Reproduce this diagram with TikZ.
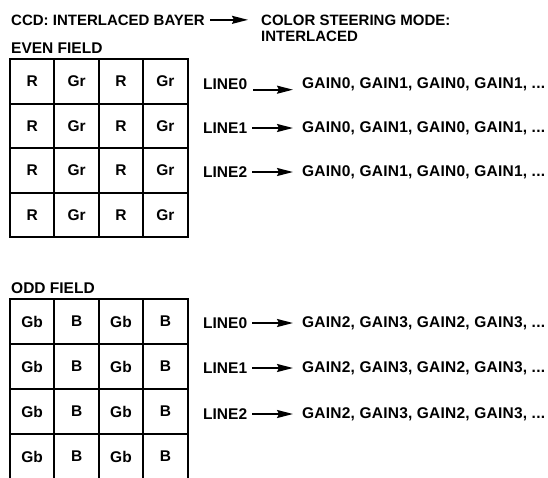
\documentclass[tikz,border=0pt]{standalone}
\usepackage{fontspec}
\setmainfont{Liberation Sans}
\usetikzlibrary{arrows.meta}
\begin{document}
\begin{tikzpicture}[x=1pt,y=-1pt,
  txt/.style={inner sep=0pt, font=\fontsize{15.5}{16}\selectfont\bfseries},
  ttl/.style={inner sep=0pt, font=\fontsize{15}{16}\selectfont\bfseries},
  gain/.style={txt, font=\fontsize{15.5}{16}\selectfont\bfseries\addfontfeature{LetterSpace=1.5}},
  cell/.style={draw, line width=2pt, minimum width=44.4pt, minimum height=44.6pt, inner sep=0pt, font=\fontsize{15.5}{16}\selectfont\bfseries},
  ocell/.style={cell, minimum height=45pt},
  arr/.style={line width=1.8pt, -{Stealth[length=16pt,width=8pt,inset=2pt]}}]
\useasboundingbox (0,0) rectangle (548,477);
\clip (0,0) rectangle (548,477);
% title
\node[ttl, anchor=base west] (ccd) at (11,25) {CCD: INTERLACED BAYER};
\node[ttl, anchor=base west] (steer) at (261,25) {COLOR STEERING MODE:};
\node[ttl, anchor=base west] (steer2) at (261,41.5) {INTERLACED};
\draw[arr, shorten <=5pt, shorten >=13pt] (ccd.east) -- (ccd.east -| steer.west);
% even field
\node[txt, anchor=base west] (even) at (11,53) {EVEN FIELD};
\foreach \r in {0,...,3}{
  \foreach \c/\t in {0/R,1/Gr,2/R,3/Gr}{
    \node[cell] (e\r\c) at ({32.2+44.4*\c},{81.3+44.6*\r}) {\t};
  }
}
% odd field
\node[txt, anchor=base west] (odd) at (11,293) {ODD FIELD};
\foreach \r in {0,...,3}{
  \foreach \c/\t in {0/Gb,1/B,2/Gb,3/B}{
    \node[ocell] (o\r\c) at ({32.2+44.4*\c},{321.5+45*\r}) {\t};
  }
}
% even lines
\foreach \i/\y in {0/84,1/128,2/172}{
  \node[txt, anchor=west] (el\i) at (203,\y) {LINE\i};
  \node[gain, anchor=west] (eg\i) at (302,\y) {GAIN0, GAIN1, GAIN0, GAIN1, ...};
}
\draw[arr, shorten <=6pt, shorten >=9pt] (el0.south east) -- (el0.south east -| eg0.west);
\draw[arr, shorten <=5pt, shorten >=9pt] (el1.east) -- (eg1.west);
\draw[arr, shorten <=5pt, shorten >=9pt] (el2.east) -- (eg2.west);
% odd lines
\foreach \i/\y in {0/323,1/368,2/414}{
  \node[txt, anchor=west] (ol\i) at (203,\y) {LINE\i};
  \node[gain, anchor=west] (og\i) at (302,\y) {GAIN2, GAIN3, GAIN2, GAIN3, ...};
  \draw[arr, shorten <=5pt, shorten >=9pt] (ol\i.east) -- (og\i.west);
}
\end{tikzpicture}
\end{document}
